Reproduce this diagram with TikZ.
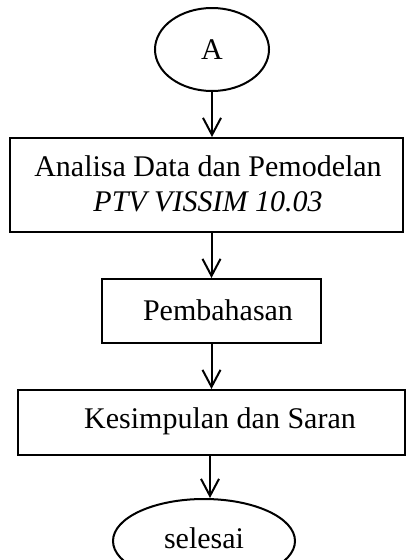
\documentclass[tikz,border=0pt]{standalone}
\usepackage{fontspec}
\setmainfont{Liberation Serif}
\usetikzlibrary{arrows.meta,shapes.geometric,calc}
\begin{document}
\begin{tikzpicture}[x=1pt,y=-1pt,
  every node/.style={font=\fontsize{30}{35}\selectfont},
  boxstyle/.style={draw,line width=2pt,rectangle,inner sep=0pt},
  ovalstyle/.style={draw,line width=2pt,ellipse,inner sep=0pt},
  txt/.style={inner sep=0pt,align=center},
  flow/.style={line width=2pt,-{Straight Barb[length=17pt,width=18pt,line width=2pt]}}]
\useasboundingbox (0,0) rectangle (406,560);
\clip (0,0) rectangle (406,560);
\node[ovalstyle,minimum width=114pt,minimum height=83pt] (A) at (212,49.5) {};
\node[txt] (At) at (212,50) {A};
\node[boxstyle,minimum width=393pt,minimum height=94pt] (b1) at (206.5,185) {};
\node[txt] (b1t) at (208,184) {Analisa Data dan Pemodelan\\\textit{PTV VISSIM 10.03}};
\node[boxstyle,minimum width=219pt,minimum height=64pt] (b2) at (211.5,311) {};
\node[txt] (b2t) at (218,310) {Pembahasan};
\node[boxstyle,minimum width=387pt,minimum height=65pt] (b3) at (211.5,422.5) {};
\node[txt] (b3t) at (220,421) {Kesimpulan dan Saran};
\node[ovalstyle,minimum width=182pt,minimum height=84pt] (s) at (204,541) {};
\node[txt] (st) at (204,538) {selesai};
\draw[flow] (A.south) -- (A.south |- b1.north);
\draw[flow] (b1.south -| b2.north) -- (b2.north);
\draw[flow] (b2.south) -- (b2.south |- b3.north);
\draw[flow] ($(b3.south)+(-1.5,0)$) coordinate (c3) -- (c3 |- s.north);
\end{tikzpicture}
\end{document}
